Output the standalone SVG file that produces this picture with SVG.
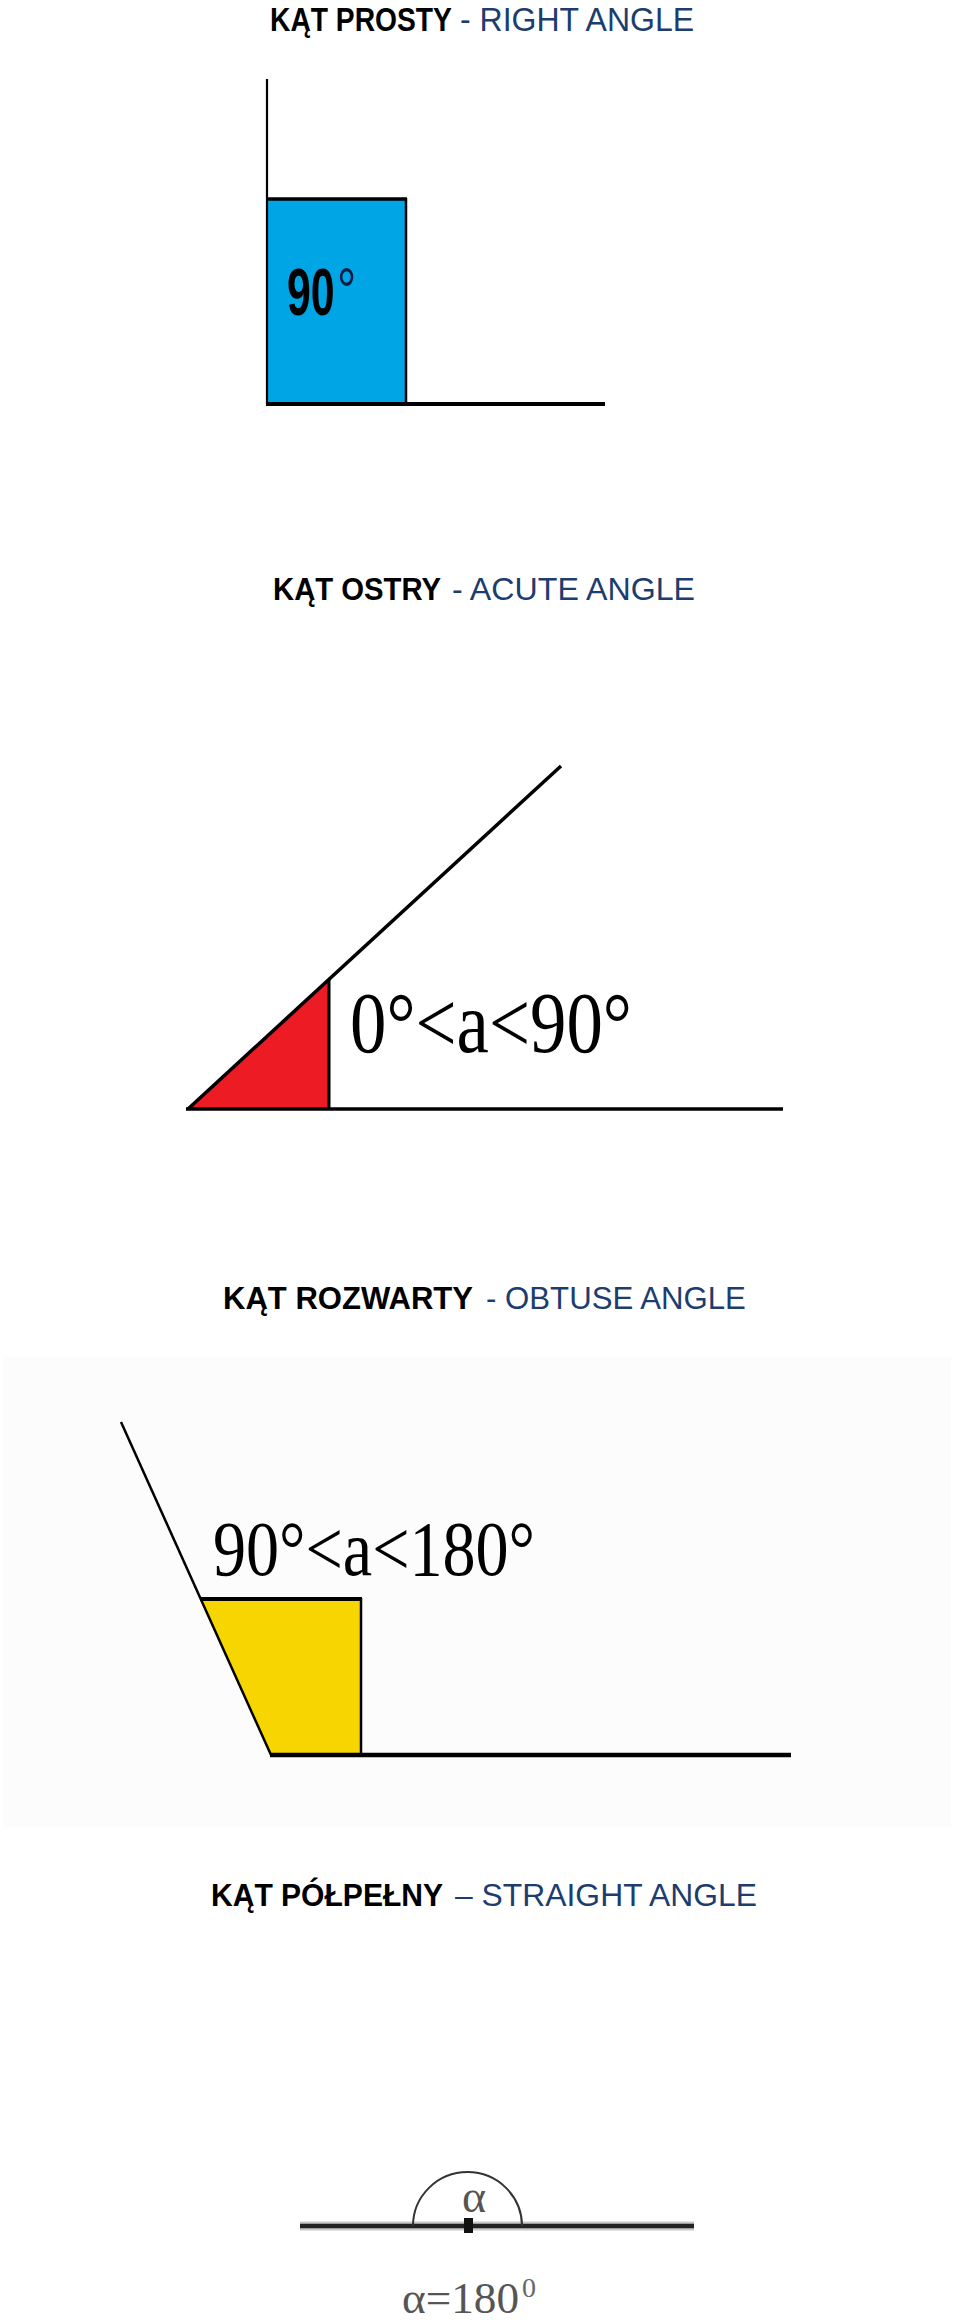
<svg xmlns="http://www.w3.org/2000/svg" width="960" height="2320" viewBox="0 0 960 2320">
  <style>
    .tb { font-family: "Liberation Sans", Arial, sans-serif; font-weight: 700; font-size: 34px; fill: #000; }
    .tr { font-family: "Liberation Sans", Arial, sans-serif; font-weight: 400; font-size: 34px; fill: #1c3d6e; }
    .t2 { font-size: 32px; }
    .serif { font-family: "Liberation Serif", "Times New Roman", serif; fill: #000; }
    .ln { stroke: #000; fill: none; stroke-linecap: butt; }
  </style>
  <rect x="0" y="0" width="960" height="2320" fill="#ffffff"/>

  <!-- Section 1: right angle -->
  <g id="right-angle">
    <text class="tb" transform="translate(270,31) scale(0.8306,1)" x="0" y="0" textLength="219" lengthAdjust="spacingAndGlyphs">KĄT PROSTY</text>
    <text class="tr" transform="translate(460,31) scale(0.907,1)" x="0" y="0" textLength="258" lengthAdjust="spacingAndGlyphs">- RIGHT ANGLE</text>
    <rect x="267" y="199" width="139" height="205" fill="#00a5e5"/>
    <line class="ln" x1="267" y1="79" x2="267" y2="405" stroke-width="2.2"/>
    <line class="ln" x1="266" y1="199" x2="407" y2="199" stroke-width="3.5"/>
    <line class="ln" x1="406" y1="198" x2="406" y2="404" stroke-width="2.5"/>
    <line class="ln" x1="266" y1="404" x2="605" y2="404" stroke-width="4"/>
    <text transform="translate(287,315) scale(0.65,1)" x="0" y="0" style="font-family:'Liberation Sans',Arial,sans-serif;font-weight:700;font-size:66px;fill:#000">90</text>
    <text transform="translate(337,313) scale(0.75,1)" x="0" y="0" style="font-family:'Liberation Sans',Arial,sans-serif;font-weight:400;font-size:64px;fill:#0a1a40">°</text>
  </g>

  <!-- Section 2: acute angle -->
  <g id="acute-angle">
    <text class="tb t2" transform="translate(273,600) scale(0.9086,1)" x="0" y="0" textLength="185" lengthAdjust="spacingAndGlyphs">KĄT OSTRY</text>
    <text class="tr t2" x="452" y="600" textLength="243" lengthAdjust="spacingAndGlyphs">- ACUTE ANGLE</text>
    <polygon points="188,1109 329,1109 329,980" fill="#ed1c24"/>
    <line class="ln" x1="188" y1="1109" x2="561" y2="766" stroke-width="3.5"/>
    <line class="ln" x1="329" y1="980" x2="329" y2="1109" stroke-width="3"/>
    <line class="ln" x1="186" y1="1109" x2="783" y2="1109" stroke-width="3.5"/>
    <text class="serif" x="350" y="1052" font-size="86" textLength="282" lengthAdjust="spacingAndGlyphs">0°&lt;a&lt;90°</text>
  </g>

  <!-- Section 3: obtuse angle -->
  <g id="obtuse-angle">
    <text class="tb t2" transform="translate(223,1309) scale(0.9634,1)" x="0" y="0" textLength="259.5" lengthAdjust="spacingAndGlyphs">KĄT ROZWARTY</text>
    <text class="tr t2" transform="translate(486,1309) scale(0.968,1)" x="0" y="0" textLength="268.5" lengthAdjust="spacingAndGlyphs">- OBTUSE ANGLE</text>
    <rect x="3" y="1357" width="948" height="470" fill="#fcfcfc"/>
    <polygon points="201,1599 361,1599 361,1755 271,1755" fill="#f7d500"/>
    <line class="ln" x1="121" y1="1422" x2="271" y2="1755" stroke-width="2.5"/>
    <line class="ln" x1="200" y1="1599" x2="362" y2="1599" stroke-width="4"/>
    <line class="ln" x1="361" y1="1598" x2="361" y2="1755" stroke-width="2.5"/>
    <line class="ln" x1="270" y1="1755" x2="791" y2="1755" stroke-width="4.5"/>
    <text class="serif" x="213" y="1575" font-size="78" textLength="322" lengthAdjust="spacingAndGlyphs">90°&lt;a&lt;180°</text>
  </g>

  <!-- Section 4: straight angle -->
  <g id="straight-angle">
    <text class="tb t2" transform="translate(211,1906) scale(0.8923,1)" x="0" y="0" textLength="260" lengthAdjust="spacingAndGlyphs">KĄT PÓŁPEŁNY</text>
    <text class="tr t2" transform="translate(455,1906) scale(0.944,1)" x="0" y="0" textLength="320" lengthAdjust="spacingAndGlyphs">– STRAIGHT ANGLE</text>
    <line x1="300" y1="2226" x2="694" y2="2226" stroke="#c8c8c8" stroke-width="9"/>
    <line x1="300" y1="2226" x2="694" y2="2226" stroke="#222" stroke-width="4.5"/>
    <path d="M413,2226 A54.5,54 0 0 1 522,2226" fill="none" stroke="#333" stroke-width="2"/>
    <rect x="464" y="2218" width="9" height="15" fill="#111"/>
    <text class="serif" x="474" y="2212" font-size="46" text-anchor="middle" style="fill:#555">α</text>
    <text class="serif" x="402" y="2313" font-size="44" textLength="117" lengthAdjust="spacingAndGlyphs" style="fill:#555">α=180</text>
    <text class="serif" x="522" y="2297" font-size="28" style="fill:#666">0</text>
  </g>
</svg>
